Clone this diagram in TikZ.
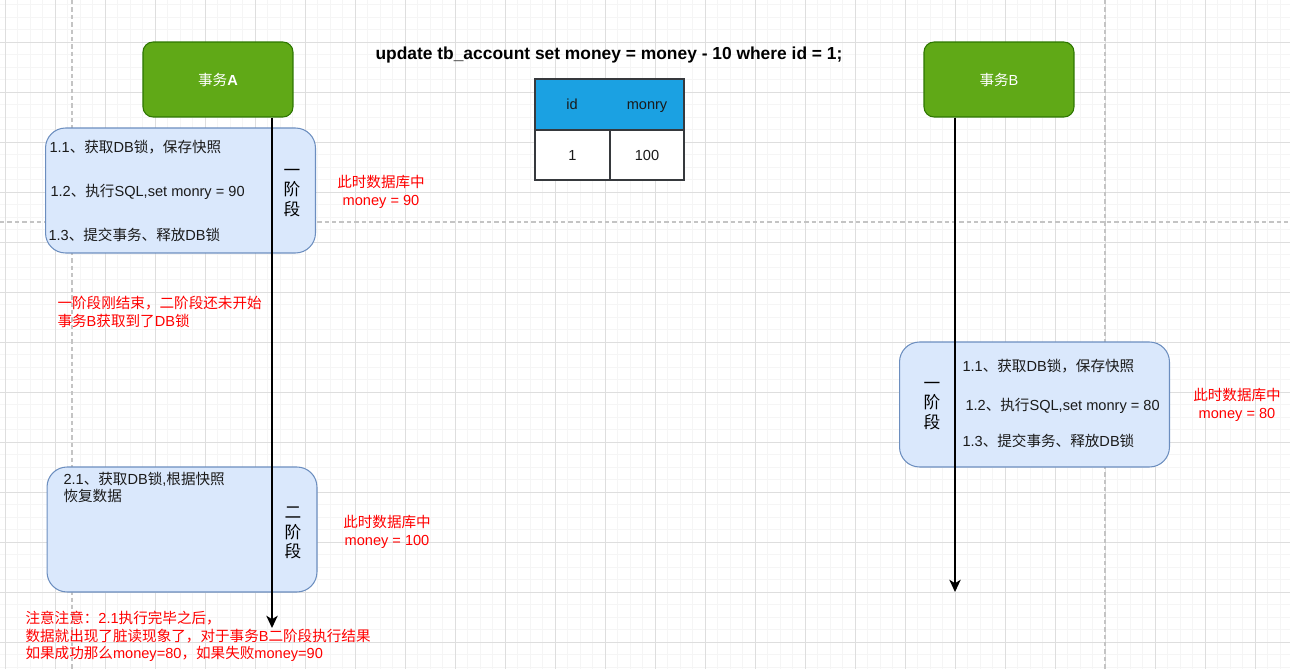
\documentclass[tikz,border=0pt]{standalone}
\usepackage{fontspec}
\setmainfont{Liberation Sans}
\newfontfamily\cjk{Noto Sans CJK SC}
\usetikzlibrary{arrows.meta}
\definecolor{gridmajor}{HTML}{DEDEDE}
\definecolor{gridminor}{HTML}{F5F5F5}
\definecolor{pagebreak}{HTML}{C4C4C4}
\definecolor{txgreen}{HTML}{60A917}
\definecolor{txgreenline}{HTML}{2D7600}
\definecolor{phfill}{HTML}{DAE8FC}
\definecolor{phline}{HTML}{6C8EBF}
\definecolor{hdblue}{HTML}{1BA1E2}
\definecolor{tabline}{HTML}{36393D}
\definecolor{txtgray}{HTML}{1A1A1A}
\newcommand\zh[1]{{\cjk #1}}

\begin{document}
\begin{tikzpicture}[x=0.02cm, y=-0.02cm, line width=0.6pt,
  every node/.style={font=\fontsize{8.3}{10}\selectfont, inner sep=0pt},
  txbox/.style={draw=txgreenline, fill=txgreen, rounded corners=0.2cm,
    minimum width=3cm, minimum height=1.5cm, text=white},
  phbox/.style={draw=phline, fill=phfill, rounded corners=0.4cm,
    minimum width=5.4cm, minimum height=2.5cm},
  steptxt/.style={anchor=west, text=txtgray},
  phtxt/.style={align=center, font=\fontsize{9.5}{11.3}\selectfont\cjk, text=black},
  redtxt/.style={text=red, font=\fontsize{8.3}{10.2}\selectfont},
  life/.style={line width=0.85pt, -{Stealth[length=7pt,width=6.5pt,inset=2pt]}},
  cell/.style={draw=tabline, line width=0.8pt, minimum height=1cm, text=txtgray}]
\useasboundingbox (0,0) rectangle (1295,669);

% 背景网格
\foreach \i in {0,...,103} \draw[gridminor, line width=0.45pt] ({-7.5+12.5*\i},0) -- ({-7.5+12.5*\i},669);
\foreach \i in {1,...,54} \draw[gridminor, line width=0.45pt] (0,{-8+12.5*\i}) -- (1290,{-8+12.5*\i});
\foreach \i in {0,...,25} \draw[gridmajor, line width=0.5pt] ({5+50*\i},0) -- ({5+50*\i},669);
\foreach \i in {1,...,13} \draw[gridmajor, line width=0.5pt] (0,{-8+50*\i}) -- (1290,{-8+50*\i});
% 分页线
\draw[pagebreak, dash pattern=on 2.5pt off 1.7pt] (72,0) -- (72,669);
\draw[pagebreak, dash pattern=on 2.5pt off 1.7pt] (1105,0) -- (1105,669);
\draw[pagebreak, dash pattern=on 2.5pt off 1.7pt] (0,222) -- (1290,222);

% 两个事务
\node[txbox] (boxA) at (218,79.5) {\zh{事务}\textbf{A}};
\node[txbox] (boxB) at (999,79.5) {\zh{事务}B};

% SQL 及表
\node[font=\fontsize{9.9}{11}\selectfont\bfseries] (sql) at (609,55)
  {update tb\_account set money = money - 10 where id = 1;};
\node[cell, fill=hdblue, minimum width=2.98cm, minimum height=1.02cm] (head) at (609.5,104.5) {};
\node[text=txtgray, anchor=base] (hid) at (572,109.5) {id};
\node[text=txtgray, anchor=base] (hmon) at (647,109.5) {monry};
\node[cell, fill=white, minimum width=1.5cm] (cid) at (572.5,155) {1};
\node[cell, fill=white, minimum width=1.48cm] (cmon) at (647,155) {100};

% 事务A 一阶段
\node[phbox] (phA1) at (180.5,190.5) {};
\node[steptxt] (a11) at (49,147) {1.1\zh{、获取}DB\zh{锁，保存快照}};
\node[steptxt] (a12) at (50,192) {1.2\zh{、执行}SQL,set monry = 90};
\node[steptxt] (a13) at (48,235) {1.3\zh{、提交事务、释放}DB\zh{锁}};
\node[phtxt] (tA1) at (292,193) {一\\阶\\段};
\node[redtxt, align=center] (dbA1) at (381,192) {\zh{此时数据库中}\\money = 90};

\node[redtxt, align=left, anchor=west] (mid) at (57,311.5)
  {\zh{一阶段刚结束，二阶段还未开始}\\\zh{事务}B\zh{获取到了}DB\zh{锁}};

% 事务A 二阶段
\node[phbox] (phA2) at (182,529.5) {};
\node[steptxt, align=left, font=\fontsize{8.3}{9.6}\selectfont] (a21) at (63,487.5)
  {2.1\zh{、获取}DB\zh{锁},\zh{根据快照}\\\zh{恢复数据}};
\node[phtxt] (tA2) at (293,533) {二\\阶\\段};
\node[redtxt, align=center] (dbA2) at (387,531.5) {\zh{此时数据库中}\\money = 100};

% 事务B 一阶段
\node[phbox] (phB1) at (1034.5,404.5) {};
\node[steptxt] (b11) at (962,366) {1.1\zh{、获取}DB\zh{锁，保存快照}};
\node[steptxt] (b12) at (965,406) {1.2\zh{、执行}SQL,set monry = 80};
\node[steptxt] (b13) at (962,441) {1.3\zh{、提交事务、释放}DB\zh{锁}};
\node[phtxt] (tB1) at (932,406) {一\\阶\\段};
\node[redtxt, align=center] (dbB1) at (1237,405) {\zh{此时数据库中}\\money = 80};

% 时间线
\coordinate (endA) at (272,628);
\coordinate (endB) at (955,592);
\draw[life] (boxA.south -| endA) -- (endA);
\draw[life] (boxB.south -| endB) -- (endB);

% 注意
\node[redtxt, align=left, anchor=west, font=\fontsize{8.3}{9.9}\selectfont] (note) at (25,636.5)
  {\zh{注意注意：}2.1\zh{执行完毕之后，}\\
   \zh{数据就出现了脏读现象了，对于事务}B\zh{二阶段执行结果}\\
   \zh{如果成功那么}money=80\zh{，如果失败}money=90};
\end{tikzpicture}
\end{document}
